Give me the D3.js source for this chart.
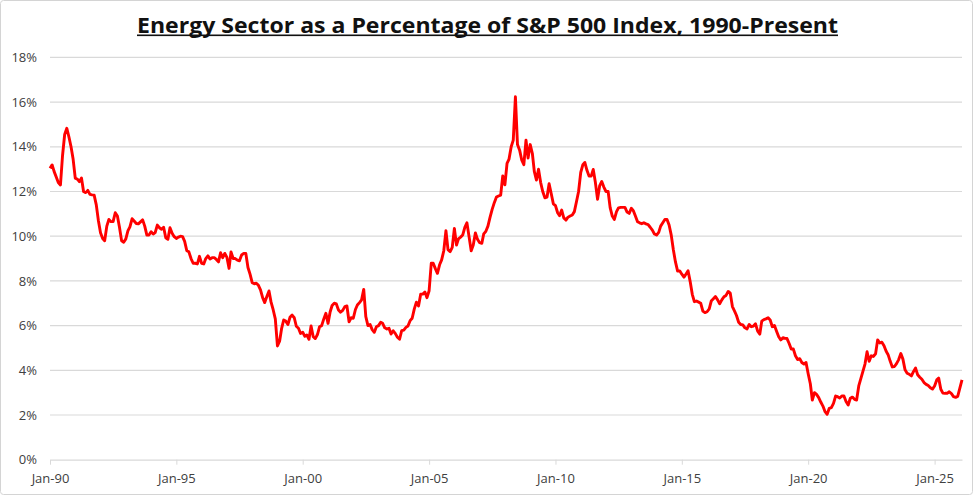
<!DOCTYPE html>
<html>
<head>
<meta charset="utf-8">
<script src="https://cdn.jsdelivr.net/npm/d3@7"></script>
<style>
  body { margin: 0; background: #fff; }
  svg { display: block; font-family: "Open Sans", sans-serif; }
</style>
</head>
<body>
<svg id="chart" width="975" height="496"></svg>
<script>
// monthly share of the S&P 500 held by energy, in percent, Jan 1990 onward
var startMonth = "1990-01";
var yearTicks = [1990, 1995, 2000, 2005, 2010, 2015, 2020, 2025];
var pctTicks = [0, 2, 4, 6, 8, 10, 12, 14, 16, 18];

var share = [
  // 1990
  13.04, 13.19, 12.9, 12.65, 12.4, 12.29, 13.6, 14.55, 14.83, 14.45, 14.0, 13.45,
  // 1991
  12.6, 12.55, 12.44, 12.6, 12.0, 11.95, 12.05, 11.87, 11.85, 11.84, 11.4, 10.7,
  // 1992
  10.15, 9.9, 9.8, 10.45, 10.75, 10.65, 10.65, 11.05, 10.9, 10.4, 9.79, 9.73,
  // 1993
  9.88, 10.25, 10.42, 10.78, 10.68, 10.57, 10.55, 10.64, 10.73, 10.45, 10.05, 10.05,
  // 1994
  10.2, 10.1, 10.16, 10.5, 10.38, 10.31, 10.4, 9.93, 9.86, 10.38, 10.13, 9.98,
  // 1995
  9.9, 9.96, 10.0, 9.98, 9.77, 9.35, 9.3, 9.0, 8.79, 8.79, 8.76, 9.1,
  // 1996
  8.79, 8.76, 9.0, 9.12, 8.98, 9.04, 9.04, 8.96, 8.85, 9.26, 9.04, 9.23,
  // 1997
  9.05, 8.56, 9.3, 9.0, 9.0, 8.93, 8.9, 9.16, 9.23, 9.23, 8.6, 8.3,
  // 1998
  7.92, 7.87, 7.9, 7.8, 7.6, 7.25, 7.03, 7.3, 7.55, 7.05, 6.7, 6.3,
  // 1999
  5.09, 5.3, 5.85, 6.25, 6.2, 6.05, 6.37, 6.47, 6.35, 5.97, 5.88, 5.65,
  // 2000
  5.7, 5.52, 5.58, 5.39, 5.98, 5.5, 5.42, 5.6, 5.95, 6.0, 6.3, 6.55,
  // 2001
  6.1, 6.62, 6.9, 7.0, 6.97, 6.7, 6.6, 6.68, 6.85, 6.88, 6.17, 6.35,
  // 2002
  6.33, 6.72, 6.92, 7.03, 7.15, 7.62, 6.4, 6.0, 6.05, 5.82, 5.7, 5.95,
  // 2003
  6.0, 6.15, 6.1, 5.9, 5.85, 5.88, 5.62, 5.77, 5.64, 5.48, 5.39, 5.77,
  // 2004
  5.8, 5.92, 5.98, 6.22, 6.33, 6.75, 7.05, 6.88, 7.4, 7.41, 7.5, 7.25,
  // 2005
  7.56, 8.79, 8.79, 8.55, 8.34, 8.72, 8.94, 9.35, 10.25, 9.4, 9.31, 9.5,
  // 2006
  10.35, 9.6, 9.88, 9.96, 10.05, 10.4, 10.6, 9.98, 9.35, 9.61, 10.15, 9.86,
  // 2007
  9.71, 9.68, 10.1, 10.22, 10.45, 10.85, 11.2, 11.5, 11.75, 11.8, 11.84, 12.7,
  // 2008
  12.3, 13.26, 13.45, 14.0, 14.3, 16.24, 14.1, 13.85, 13.4, 13.2, 14.3, 13.5,
  // 2009
  14.1, 13.7, 12.9, 12.51, 13.0, 12.4, 12.0, 11.72, 11.75, 12.35, 11.9, 11.45,
  // 2010
  11.37, 11.05, 10.92, 11.17, 10.82, 10.72, 10.85, 10.9, 10.95, 11.1, 11.55, 12.0,
  // 2011
  12.85, 13.2, 13.3, 12.95, 12.69, 12.69, 12.99, 12.4, 11.65, 12.25, 12.45, 12.2,
  // 2012
  12.0, 12.0, 11.28, 10.9, 10.75, 11.1, 11.27, 11.29, 11.29, 11.29, 11.08, 11.02,
  // 2013
  11.25, 11.13, 10.9, 10.65, 10.6, 10.56, 10.6, 10.55, 10.52, 10.4, 10.27, 10.1,
  // 2014
  10.05, 10.17, 10.45, 10.6, 10.75, 10.75, 10.5, 10.05, 9.38, 8.85, 8.44, 8.45,
  // 2015
  8.3, 8.17, 8.3, 8.45, 7.98, 7.4, 7.07, 7.1, 7.05, 7.0, 6.65, 6.58,
  // 2016
  6.62, 6.75, 7.1, 7.2, 7.3, 7.15, 6.98, 7.15, 7.29, 7.35, 7.53, 7.45,
  // 2017
  6.85, 6.65, 6.45, 6.15, 6.05, 6.03, 5.9, 5.85, 6.05, 5.95, 5.98, 6.08,
  // 2018
  5.75, 5.62, 6.2, 6.27, 6.3, 6.35, 6.25, 5.95, 6.0, 5.75, 5.5, 5.36,
  // 2019
  5.46, 5.43, 5.42, 5.2, 4.95, 4.95, 4.65, 4.48, 4.52, 4.35, 4.28, 4.35,
  // 2020
  3.85, 3.4, 2.67, 3.0, 2.92, 2.78, 2.58, 2.4, 2.15, 2.03, 2.3, 2.33,
  // 2021
  2.52, 2.85, 2.82, 2.76, 2.85, 2.85, 2.6, 2.45, 2.75, 2.8, 2.7, 2.67,
  // 2022
  3.3, 3.64, 3.94, 4.28, 4.83, 4.4, 4.65, 4.62, 4.74, 5.36, 5.22, 5.26,
  // 2023
  5.1, 4.85, 4.7, 4.4, 4.15, 4.17, 4.3, 4.48, 4.75, 4.5, 4.02, 3.87,
  // 2024
  3.82, 3.75, 3.94, 4.1, 3.8, 3.69, 3.6, 3.45, 3.37, 3.32, 3.22, 3.16,
  // 2025
  3.3, 3.57, 3.65, 3.15, 2.98, 2.97, 2.97, 3.04, 2.96, 2.82, 2.79, 2.83,
  // 2026
  3.2, 3.57
];

var svg = d3.select("#chart");
var margin = {left: 50, right: 13, top: 57, bottom: 36};
var width = 975, height = 496;

var t0 = d3.timeParse("%Y-%m")(startMonth);
var data = share.map(function(v, i){
  return {date: d3.timeMonth.offset(t0, i), value: v};
});

var x = d3.scaleTime()
  .domain([t0, data[data.length - 1].date])
  .range([margin.left, width - margin.right]);

var y = d3.scaleLinear()
  .domain([0, 18])
  .range([height - margin.bottom - 0.3, margin.top + 0.4]);

// outer frame
svg.append("rect")
  .attr("x", 0.5).attr("y", 0.5)
  .attr("width", width - 3).attr("height", height - 2)
  .attr("rx", 3)
  .attr("fill", "#fff")
  .attr("stroke", "#d4d4d4");

// title, underlined
var title = svg.append("text")
  .attr("x", 487.5).attr("y", 33)
  .attr("text-anchor", "middle")
  .attr("font-size", 21)
  .attr("font-weight", "bold")
  .attr("fill", "#111")
  .attr("textLength", 701)
  .attr("lengthAdjust", "spacingAndGlyphs")
  .text("Energy Sector as a Percentage of S&P 500 Index, 1990-Present");

svg.append("rect")
  .attr("x", 137).attr("y", 34.5)
  .attr("width", 701).attr("height", 1.6)
  .attr("fill", "#111");

// gridlines
svg.append("g")
  .selectAll("line")
  .data(pctTicks.filter(function(d){ return d > 0; }))
  .enter()
  .append("line")
  .attr("x1", margin.left).attr("x2", width - margin.right)
  .attr("y1", function(d){ return y(d); })
  .attr("y2", function(d){ return y(d); })
  .attr("stroke", "#d9d9d9")
  .attr("stroke-width", 1.2);

// y axis labels
var yAxis = svg.append("g")
  .attr("transform", "translate(" + margin.left + ",0)")
  .call(d3.axisLeft(y)
    .tickValues(pctTicks)
    .tickFormat(function(d){ return d + "%"; })
    .tickSize(0)
    .tickPadding(13));
yAxis.select(".domain").remove();
yAxis.selectAll("text")
  .attr("font-family", "Open Sans, sans-serif")
  .attr("font-size", 13)
  .attr("fill", "#404040");

// x axis
var xAxis = svg.append("g")
  .attr("transform", "translate(0," + y(0) + ")")
  .call(d3.axisBottom(x)
    .tickValues(yearTicks.map(function(yr){ return new Date(yr, 0, 1); }))
    .tickFormat(d3.timeFormat("%b-%y"))
    .tickSizeInner(5)
    .tickSizeOuter(0)
    .tickPadding(9));
xAxis.select(".domain")
  .attr("stroke", "#d9d9d9")
  .attr("stroke-width", 1.2);
xAxis.selectAll(".tick line")
  .attr("stroke", "#d9d9d9");
xAxis.selectAll("text")
  .attr("font-family", "Open Sans, sans-serif")
  .attr("font-size", 13)
  .attr("fill", "#404040");

// the series
var line = d3.line()
  .x(function(d){ return x(d.date); })
  .y(function(d){ return y(d.value); });

svg.append("path")
  .datum(data)
  .attr("d", line)
  .attr("fill", "none")
  .attr("stroke", "#ff0000")
  .attr("stroke-width", 2.9)
  .attr("stroke-linejoin", "round");
</script>
</body>
</html>
